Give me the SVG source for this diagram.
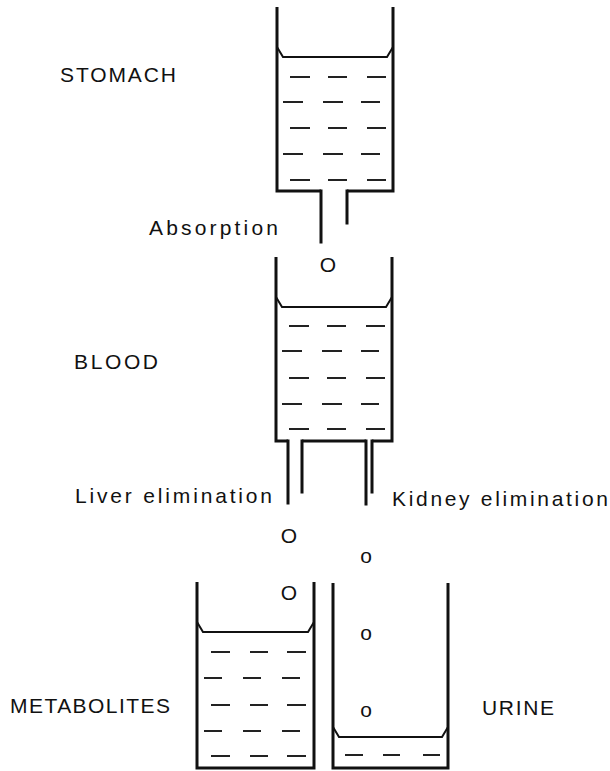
<svg xmlns="http://www.w3.org/2000/svg" width="610" height="771" viewBox="0 0 610 771">
<style>
  .wall { fill: none; stroke: #111; stroke-width: 3; stroke-linejoin: miter; }
  .pipe { fill: none; stroke: #111; stroke-width: 3; stroke-linecap: square; }
  .surf { fill: none; stroke: #111; stroke-width: 2; }
  .dash { stroke: #222; stroke-width: 1.8; }
  .lbl { font-family: "Liberation Sans", Arial, Helvetica, sans-serif; font-size: 21px; fill: #111; }
  .mol { font-family: "Liberation Sans", Arial, Helvetica, sans-serif; font-size: 21px; fill: #111; text-anchor: middle; }
</style>
<rect width="610" height="771" fill="#fff"/>

<g id="stomach">
  <path class="wall" d="M277,7 V191 H321 M347,191 H393 V7"/>
  <path class="surf" d="M277,47 L283,57 H387 L393,47"/>
  <g class="dash">
    <path d="M290,77 H310 M328,77 H347 M367,77 H386"/>
    <path d="M283,102 H303 M323,102 H343 M361,102 H380"/>
    <path d="M290,128 H310 M328,128 H347 M367,128 H386"/>
    <path d="M283,154 H303 M323,154 H343 M361,154 H380"/>
    <path d="M290,180 H310 M328,180 H347 M367,180 H386"/>
  </g>
  <text class="lbl" x="60" y="82" textLength="116" lengthAdjust="spacing">STOMACH</text>
</g>

<g id="blood">
  <path class="wall" d="M276,257 V441 H288 M302,441 H366 M372,441 H392 V257"/>
  <path class="surf" d="M276,297 L282,307 H386 L392,297"/>
  <g class="dash">
    <path d="M289,326 H309 M327,326 H346 M366,326 H385"/>
    <path d="M282,351 H302 M322,351 H342 M361,351 H379"/>
    <path d="M289,378 H309 M327,378 H346 M366,378 H385"/>
    <path d="M282,404 H302 M322,404 H342 M361,404 H379"/>
    <path d="M289,429 H309 M327,429 H346 M366,429 H385"/>
  </g>
  <text class="lbl" x="74" y="369" textLength="84" lengthAdjust="spacing">BLOOD</text>
</g>

<g id="metabolites">
  <path class="wall" d="M197,582 V768 H314 V582"/>
  <path class="surf" d="M197,622 L203,632 H308 L314,622"/>
  <g class="dash">
    <path d="M211,652 H230 M250,652 H268 M287,652 H306"/>
    <path d="M204,678 H222 M243,678 H261 M282,678 H300"/>
    <path d="M211,705 H230 M250,705 H268 M287,705 H306"/>
    <path d="M204,731 H222 M243,731 H261 M282,731 H300"/>
    <path d="M211,756 H230 M250,756 H268 M287,756 H306"/>
  </g>
  <text class="lbl" x="10" y="713" textLength="160" lengthAdjust="spacing">METABOLITES</text>
</g>

<g id="urine">
  <path class="wall" d="M333,583 V768 H448 V583"/>
  <path class="surf" d="M333,727 L339,737 H442 L448,727"/>
  <g class="dash">
    <path d="M345,755 H363 M383,755 H400 M423,755 H440"/>
  </g>
  <text class="lbl" x="482" y="715" textLength="72" lengthAdjust="spacing">URINE</text>
</g>

<g id="connectors">
  <g id="absorption">
    <path class="pipe" d="M321,191 V242 M347,191 V223"/>
    <text class="lbl" x="149" y="235" textLength="129" lengthAdjust="spacing">Absorption</text>
    <text class="mol" x="328" y="272">O</text>
  </g>
  <g id="liver-elimination">
    <path class="pipe" d="M288,441 V503 M302,441 V492"/>
    <text class="lbl" x="75" y="503" textLength="197" lengthAdjust="spacing">Liver elimination</text>
    <text class="mol" x="289" y="543">O</text>
    <text class="mol" x="289" y="600">O</text>
  </g>
  <g id="kidney-elimination">
    <path class="pipe" d="M366,441 V504 M372,441 V492"/>
    <text class="lbl" x="392" y="506" textLength="216" lengthAdjust="spacing">Kidney elimination</text>
    <text class="mol" x="366" y="563">o</text>
    <text class="mol" x="366" y="640">o</text>
    <text class="mol" x="366" y="717">o</text>
  </g>
</g>
</svg>
